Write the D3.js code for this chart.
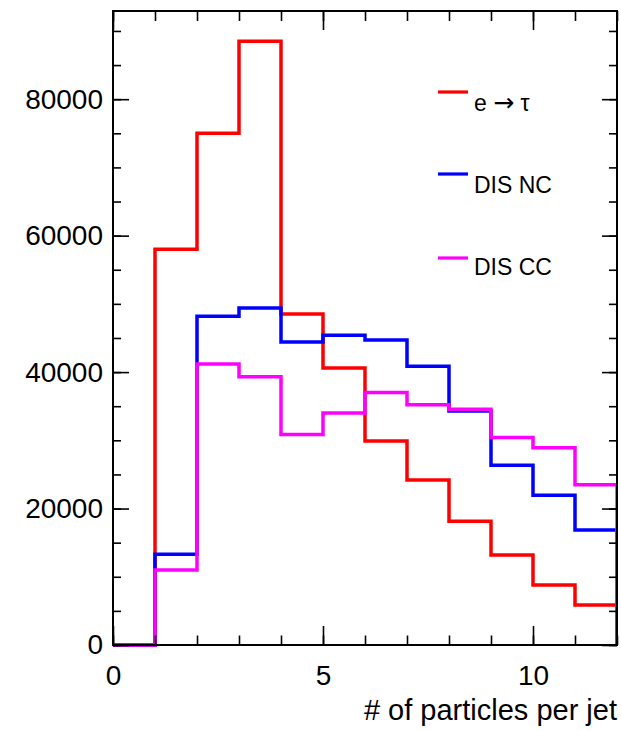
<!DOCTYPE html>
<html>
<head>
<meta charset="utf-8">
<script src="https://cdn.jsdelivr.net/npm/d3@7"></script>
<style>
  body { margin: 0; background: #fff; }
  text { font-family: "Liberation Sans", Arial, Helvetica, sans-serif; fill: #000; }
</style>
</head>
<body>
<svg id="chart" width="621" height="731"></svg>
<script>
// Bin edges: 12 unit-wide bins from 0 to 12 particles per jet
const binEdges = d3.range(0, 13);

// Entries per bin
const eTau  = [0, 58000, 75000, 88500, 48500, 40600, 29900, 24200, 18150, 13200, 8800, 5850];
const disNC = [0, 13300, 48200, 49400, 44400, 45400, 44700, 40850, 34300, 26350, 21950, 16850];
const disCC = [0, 11000, 41200, 39300, 30850, 34000, 37000, 35200, 34550, 30400, 28900, 23500];

// Legend entries; each is a list of [text, font, size] runs
const seriesNames  = [
  [["e ", null, null], ["\u2192", "DejaVu Sans", 25], [" \u03c4", null, null]],
  [["DIS NC", null, null]],
  [["DIS CC", null, null]]
];
const seriesColors = ["#ff0000", "#0000ff", "#ff00ff"];
const seriesValues = [eTau, disNC, disCC];

const xMajorTicks = [0, 5, 10];
const xMinorTicks = d3.range(0, 13);
const yMajorTicks = [0, 20000, 40000, 60000, 80000];
const yMinorTicks = d3.range(0, 95000, 5000);
const xTitle = "# of particles per jet";

const svg = d3.select("#chart");
const frame = { left: 113, right: 617, top: 11, bottom: 645 };

const yMax = d3.max(seriesValues.flat()) * 1.05;
const x = d3.scaleLinear().domain([0, 12]).range([frame.left, frame.right]);
const y = d3.scaleLinear().domain([0, yMax]).range([frame.bottom, frame.top]);

// Histograms as outlined steps
const plot = svg.append("g");
plot.append("clipPath").attr("id", "clip")
  .append("rect")
  .attr("x", frame.left).attr("y", frame.top - 2)
  .attr("width", frame.right - frame.left).attr("height", frame.bottom - frame.top + 4);

function stepPoints(vals) {
  const pts = [[binEdges[0], 0]];
  vals.forEach((v, i) => {
    pts.push([binEdges[i], v]);
    pts.push([binEdges[i + 1], v]);
  });
  pts.push([binEdges[binEdges.length - 1], 0]);
  return pts;
}

const line = d3.line().x(d => x(d[0])).y(d => y(d[1]));

seriesValues.forEach((vals, i) => {
  plot.append("path")
    .attr("d", line(stepPoints(vals)))
    .attr("clip-path", "url(#clip)")
    .attr("fill", "none")
    .attr("stroke", seriesColors[i])
    .attr("stroke-width", 3.5)
    .attr("stroke-linejoin", "miter");
});

// Axes with inward-pointing ticks on all four sides
function styleAxis(g) {
  g.select(".domain").remove();
  g.selectAll(".tick line").attr("stroke", "#000").attr("stroke-width", 1.6);
}

svg.append("g").attr("transform", `translate(0,${frame.bottom})`)
  .call(d3.axisBottom(x).tickValues(xMinorTicks).tickSize(-9.5).tickFormat(""))
  .call(styleAxis);
svg.append("g").attr("transform", `translate(0,${frame.bottom})`)
  .call(d3.axisBottom(x).tickValues(xMajorTicks).tickSize(-19).tickPadding(20).tickFormat(d3.format("d")))
  .call(styleAxis)
  .call(g => g.selectAll("text").attr("font-size", 28).attr("font-family", null));

svg.append("g").attr("transform", `translate(0,${frame.top})`)
  .call(d3.axisTop(x).tickValues(xMinorTicks).tickSize(-10).tickFormat(""))
  .call(styleAxis);
svg.append("g").attr("transform", `translate(0,${frame.top})`)
  .call(d3.axisTop(x).tickValues(xMajorTicks).tickSize(-19).tickFormat(""))
  .call(styleAxis);

svg.append("g").attr("transform", `translate(${frame.left},0)`)
  .call(d3.axisLeft(y).tickValues(yMinorTicks).tickSize(-8).tickFormat(""))
  .call(styleAxis);
svg.append("g").attr("transform", `translate(${frame.left},0)`)
  .call(d3.axisLeft(y).tickValues(yMajorTicks).tickSize(-16).tickPadding(10).tickFormat(d3.format("d")))
  .call(styleAxis)
  .call(g => g.selectAll("text").attr("font-size", 28).attr("font-family", null));

svg.append("g").attr("transform", `translate(${frame.right},0)`)
  .call(d3.axisRight(y).tickValues(yMinorTicks).tickSize(-8).tickFormat(""))
  .call(styleAxis);
svg.append("g").attr("transform", `translate(${frame.right},0)`)
  .call(d3.axisRight(y).tickValues(yMajorTicks).tickSize(-15).tickFormat(""))
  .call(styleAxis);

// Frame
svg.append("rect")
  .attr("x", frame.left).attr("y", frame.top)
  .attr("width", frame.right - frame.left).attr("height", frame.bottom - frame.top)
  .attr("fill", "none").attr("stroke", "#000").attr("stroke-width", 2);

// Axis title
svg.append("text")
  .attr("x", frame.right).attr("y", 720)
  .attr("text-anchor", "end")
  .attr("font-size", 29)
  .text(xTitle);

// Legend
const legendLineY = [92, 174, 258];
const legendTextY = [111, 193, 275];
const legend = svg.append("g");
seriesNames.forEach((runs, i) => {
  legend.append("line")
    .attr("x1", 438).attr("x2", 468)
    .attr("y1", legendLineY[i]).attr("y2", legendLineY[i])
    .attr("stroke", seriesColors[i]).attr("stroke-width", 3.2);
  const t = legend.append("text")
    .attr("x", 474).attr("y", legendTextY[i])
    .attr("font-size", 23)
    .attr("xml:space", "preserve")
    .style("white-space", "pre");
  runs.forEach(([str, font, size]) => {
    const span = t.append("tspan").text(str);
    if (font) span.attr("font-family", font).attr("font-size", size);
  });
});
</script>
</body>
</html>
